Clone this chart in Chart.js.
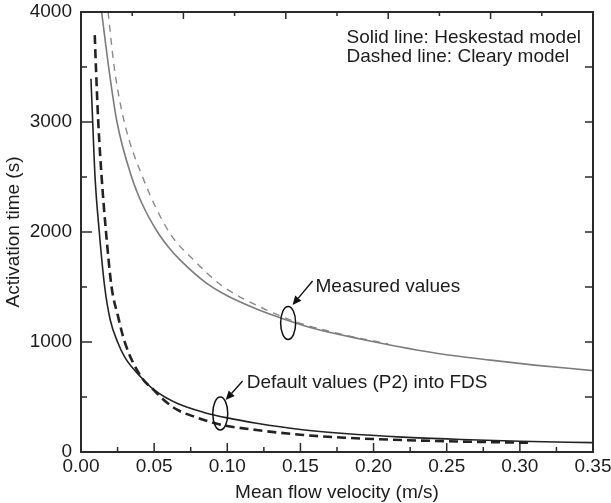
<!DOCTYPE html>
<html><head><meta charset="utf-8">
<script src="https://cdn.jsdelivr.net/npm/chart.js@4.4.0/dist/chart.umd.min.js"></script>
<style>html,body{margin:0;padding:0;background:#fff;}</style>
</head><body>
<canvas id="c" width="611" height="503"></canvas>
<script>
// ---- data ----
const xTickValues = [0, 0.05, 0.10, 0.15, 0.20, 0.25, 0.30, 0.35];
const xTickLabels = ['0.00', '0.05', '0.10', '0.15', '0.20', '0.25', '0.30', '0.35'];
const yTickValues = [0, 1000, 2000, 3000, 4000];
const yTickLabels = ['0', '1000', '2000', '3000', '4000'];
const xMinorTicks = [0.025, 0.075, 0.125, 0.175, 0.225, 0.275, 0.325];
const yMinorTicks = [500, 1500, 2500, 3500];
const topTicks = [0.035, 0.07, 0.105, 0.14, 0.175, 0.21, 0.245, 0.28, 0.315];
const rightTicks = [500, 1000, 1500, 2000, 2500, 3000, 3500];

// Heskestad model, measured values (grey solid)
const heskMeasV = [0.0141, 0.0189, 0.0246, 0.0346, 0.042, 0.0523, 0.06, 0.0682, 0.0853, 0.10, 0.12, 0.138, 0.16, 0.19, 0.24, 0.28, 0.31, 0.35];
const heskMeasT = [4000, 3500, 3000, 2500, 2250, 2000, 1860, 1740, 1540, 1420, 1300, 1212, 1120, 1030, 905, 835, 790, 740];
// Cleary model, measured values (grey dashed)
const clearyMeasV = [0.0185, 0.0227, 0.0296, 0.0421, 0.0602, 0.0785, 0.0955, 0.127, 0.15, 0.18, 0.21];
const clearyMeasT = [4000, 3500, 3000, 2500, 2000, 1727, 1520, 1290, 1170, 1065, 982];
// Heskestad model, default values P2 (black solid)
const heskDefV = [0.0068, 0.0080, 0.0096, 0.0125, 0.0162, 0.02, 0.025, 0.03, 0.041, 0.05, 0.066, 0.084, 0.10, 0.12, 0.15, 0.18, 0.22, 0.26, 0.30, 0.35];
const heskDefT = [3394, 3000, 2500, 2000, 1500, 1200, 1000, 860, 680, 564, 440, 360, 310, 262, 205, 168, 135, 114, 98, 85];
// Cleary model, default values P2 (black dashed)
const clearyDefV = [0.0094, 0.0102, 0.0118, 0.0141, 0.0171, 0.0209, 0.0252, 0.0298, 0.041, 0.05, 0.058, 0.066, 0.0775, 0.095, 0.12, 0.15, 0.18, 0.21, 0.25, 0.30, 0.307];
const clearyDefT = [3790, 3500, 3000, 2500, 2000, 1500, 1240, 1003, 685, 560, 457, 382, 321, 250, 200, 157, 130, 113, 98, 85, 83];

// annotations (anchored in data units)
const legendLines = ['Solid line: Heskestad model', 'Dashed line: Cleary model'];
const legendAnchorV = [0.1815, 0.1815];
const legendAnchorT = [3764, 3591];
const noteTexts = ['Measured values', 'Default values (P2) into FDS'];
const noteTextV = [0.1603, 0.1133];
const noteTextT = [1500, 627];
const ellipseV = [0.1416, 0.0952];
const ellipseT = [1173, 350];
const arrowTailV = [0.1583, 0.1105];
const arrowTailT = [1555, 645];
const arrowHeadV = [0.1446, 0.0989];
const arrowHeadT = [1336, 473];

const FONT = '"Liberation Sans", Arial, Helvetica, sans-serif';
const TXT = '#1c1c1c';

function pts(xs, ys) { return xs.map((x, i) => ({x, y: ys[i]})); }

const decor = {
  id: 'decor',
  afterDatasetsDraw(chart) {
    const {ctx, chartArea: a, scales: {x, y}} = chart;
    ctx.save();
    // frame
    ctx.strokeStyle = '#2a2a2a';
    ctx.lineWidth = 2;
    ctx.strokeRect(a.left, a.top, a.right - a.left, a.bottom - a.top);
    ctx.lineWidth = 1.5;
    const seg = (x1, y1, x2, y2) => { ctx.beginPath(); ctx.moveTo(x1, y1); ctx.lineTo(x2, y2); ctx.stroke(); };
    xTickValues.forEach(v => { const px = x.getPixelForValue(v); seg(px, a.bottom, px, a.bottom - 9); });
    xMinorTicks.forEach(v => { const px = x.getPixelForValue(v); seg(px, a.bottom, px, a.bottom - 5); });
    yTickValues.forEach(v => { const py = y.getPixelForValue(v); seg(a.left, py, a.left + 11, py); });
    yMinorTicks.forEach(v => { const py = y.getPixelForValue(v); seg(a.left, py, a.left + 6, py); });
    topTicks.forEach((v, i) => { const px = x.getPixelForValue(v); seg(px, a.top, px, a.top + (i % 2 === 1 ? 7 : 4)); });
    rightTicks.forEach(v => { const py = y.getPixelForValue(v); seg(a.right, py, a.right - 8, py); });

    // legend text
    ctx.fillStyle = TXT;
    ctx.font = '19px ' + FONT;
    ctx.textBaseline = 'middle';
    ctx.textAlign = 'left';
    legendLines.forEach((s, i) => ctx.fillText(s, x.getPixelForValue(legendAnchorV[i]), y.getPixelForValue(legendAnchorT[i])));
    noteTexts.forEach((s, i) => ctx.fillText(s, x.getPixelForValue(noteTextV[i]), y.getPixelForValue(noteTextT[i])));

    // ellipses
    ctx.strokeStyle = '#111';
    ctx.lineWidth = 1.5;
    ellipseV.forEach((v, i) => {
      ctx.beginPath();
      ctx.ellipse(x.getPixelForValue(v), y.getPixelForValue(ellipseT[i]), 7.5, 16.5, 0, 0, Math.PI * 2);
      ctx.stroke();
    });
    // arrows
    arrowTailV.forEach((v, i) => {
      const x1 = x.getPixelForValue(v), y1 = y.getPixelForValue(arrowTailT[i]);
      const x2 = x.getPixelForValue(arrowHeadV[i]), y2 = y.getPixelForValue(arrowHeadT[i]);
      const ang = Math.atan2(y2 - y1, x2 - x1);
      const L = 9, W = 4;
      const bx = x2 - L * Math.cos(ang), by = y2 - L * Math.sin(ang);
      ctx.lineWidth = 1.4;
      seg(x1, y1, bx, by);
      ctx.fillStyle = '#111';
      ctx.beginPath();
      ctx.moveTo(x2, y2);
      ctx.lineTo(bx + W * Math.sin(ang), by - W * Math.cos(ang));
      ctx.lineTo(bx - W * Math.sin(ang), by + W * Math.cos(ang));
      ctx.closePath();
      ctx.fill();
    });
    ctx.restore();
  }
};

const common = {showLine: true, pointRadius: 0, pointHoverRadius: 0, fill: false, cubicInterpolationMode: 'monotone'};

new Chart(document.getElementById('c'), {
  type: 'scatter',
  data: {
    datasets: [
      {...common, label: 'Heskestad (measured)', data: pts(heskMeasV, heskMeasT), borderColor: '#7c7c7c', borderWidth: 1.6},
      {...common, label: 'Cleary (measured)', data: pts(clearyMeasV, clearyMeasT), borderColor: '#8a8a8a', borderWidth: 1.4, borderDash: [7, 6]},
      {...common, label: 'Heskestad (P2)', data: pts(heskDefV, heskDefT), borderColor: '#222', borderWidth: 1.6},
      {...common, label: 'Cleary (P2)', data: pts(clearyDefV, clearyDefT), borderColor: '#222', borderWidth: 2.6, borderDash: [9, 5]}
    ]
  },
  options: {
    responsive: false,
    animation: false,
    devicePixelRatio: 1,
    layout: {padding: {top: 12, right: 18, left: 0, bottom: 0}},
    plugins: {legend: {display: false}, tooltip: {enabled: false}},
    scales: {
      x: {
        type: 'linear', position: 'bottom', min: 0, max: 0.35,
        afterBuildTicks: s => { s.ticks = xTickValues.map(v => ({value: v})); },
        afterFit: s => { s.height = 51; s.paddingLeft = 0; s.paddingRight = 0; },
        grid: {display: false, drawTicks: false},
        border: {display: false},
        ticks: {callback: (v, i) => xTickLabels[i], autoSkip: false, maxRotation: 0, padding: 3, color: TXT, font: {family: FONT, size: 19}},
        title: {display: true, text: 'Mean flow velocity (m/s)', color: TXT, font: {family: FONT, size: 19, lineHeight: 1.1}, padding: 0}
      },
      y: {
        type: 'linear', position: 'left', min: 0, max: 4000,
        afterBuildTicks: s => { s.ticks = yTickValues.map(v => ({value: v})); },
        afterFit: s => { s.width = 81; s.paddingTop = 0; s.paddingBottom = 0; },
        grid: {display: false, drawTicks: false},
        border: {display: false},
        ticks: {callback: (v, i) => yTickLabels[i], padding: 9, color: TXT, font: {family: FONT, size: 19}},
        title: {display: true, text: 'Activation time (s)', color: TXT, font: {family: FONT, size: 19, lineHeight: 1.2}, padding: {top: 2, bottom: 0}}
      }
    }
  },
  plugins: [decor]
});
</script>
</body></html>
